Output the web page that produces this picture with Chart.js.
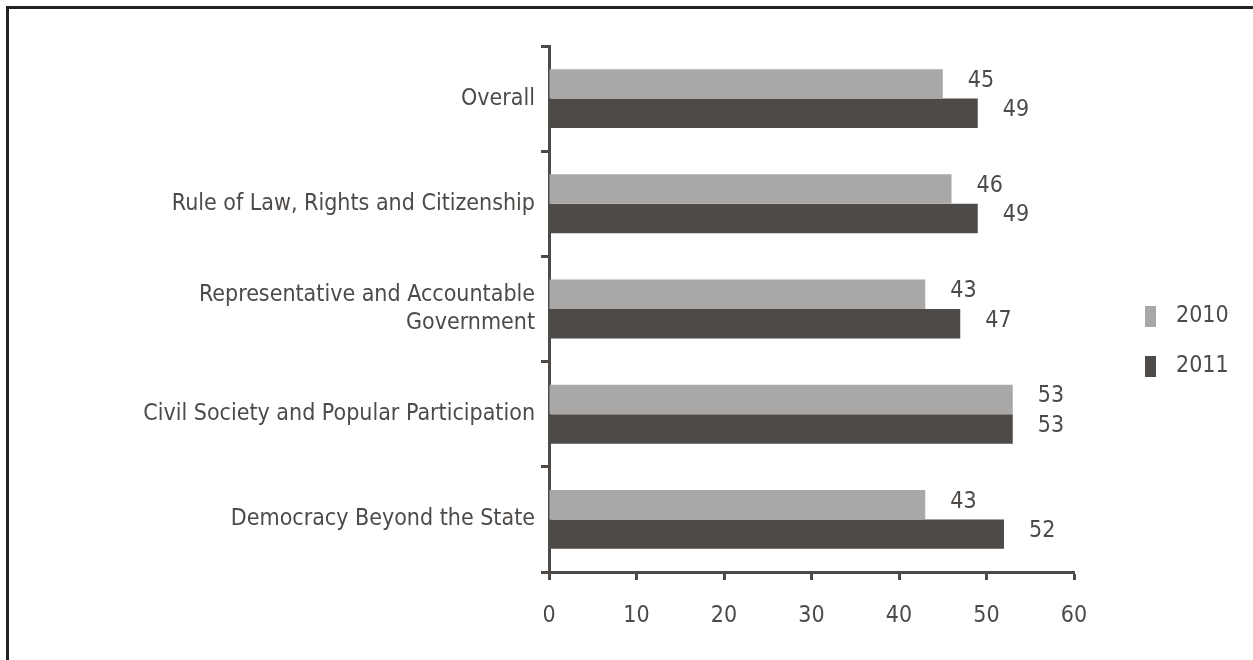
<!DOCTYPE html>
<html>
<head>
<meta charset="utf-8">
<script src="https://cdn.jsdelivr.net/npm/chart.js@4/dist/chart.umd.min.js"></script>
<style>
  html, body { margin: 0; padding: 0; background: #fff; }
  #wrap { width: 1253px; height: 660px; position: relative; }
</style>
</head>
<body>
<div id="wrap"><canvas id="chart" width="1253" height="660"></canvas></div>
<script>
// categories (top to bottom)
const categories = [
    'Overall',
    'Rule of Law, Rights and Citizenship',
    ['Representative and Accountable', 'Government'],
    'Civil Society and Popular Participation',
    'Democracy Beyond the State'
];
const values2010 = [45, 46, 43, 53, 43];
const values2011 = [49, 49, 47, 53, 52];
const seriesNames = ['2010', '2011'];
const xTicks = [0, 10, 20, 30, 40, 50, 60];

const FONT = '"Liberation Sans Narrow", "DejaVu Sans Condensed", "Liberation Sans", sans-serif';
const FONT_SIZE = 23;
const TEXT = '#4e4a47';
const LIGHT = '#a9a8a7';
const DARK = '#4e4a47';

// frame line on top and left, value labels, legend
const extras = {
    id: 'extras',
    beforeDraw(chart) {
        const ctx = chart.ctx;
        ctx.save();
        ctx.strokeStyle = '#222';
        ctx.lineWidth = 3;
        ctx.beginPath();
        ctx.moveTo(7.5, 660);
        ctx.lineTo(7.5, 7.5);
        ctx.lineTo(1253, 7.5);
        ctx.stroke();
        ctx.restore();
    },
    afterDatasetsDraw(chart) {
        const ctx = chart.ctx;
        ctx.save();
        ctx.font = FONT_SIZE + 'px ' + FONT;
        ctx.fillStyle = TEXT;
        ctx.textBaseline = 'middle';
        ctx.textAlign = 'left';
        chart.data.datasets.forEach((ds, i) => {
            chart.getDatasetMeta(i).data.forEach((bar, j) => {
                ctx.fillText(String(ds.data[j]), bar.x + 25, bar.y - 3);
            });
        });
        // legend
        chart.data.datasets.forEach((ds, i) => {
            const cy = 316 + i * 50;
            ctx.fillStyle = ds.backgroundColor;
            ctx.fillRect(1145, cy - 10, 11, 21);
            ctx.fillStyle = TEXT;
            ctx.fillText(ds.label, 1176, cy);
        });
        ctx.restore();
    }
};

new Chart(document.getElementById('chart'), {
    type: 'bar',
    data: {
        labels: categories,
        datasets: [
            { label: seriesNames[0], data: values2010, backgroundColor: LIGHT },
            { label: seriesNames[1], data: values2011, backgroundColor: DARK }
        ]
    },
    options: {
        indexAxis: 'y',
        responsive: false,
        animation: false,
        categoryPercentage: 0.56,
        barPercentage: 1.0,
        layout: { padding: { top: 46, right: 179, bottom: 0, left: 0 } },
        plugins: {
            legend: { display: false },
            tooltip: { enabled: false }
        },
        scales: {
            y: {
                afterFit(scale) { scale.width = 549; },
                grid: {
                    drawOnChartArea: false,
                    drawTicks: true,
                    tickLength: 8,
                    tickWidth: 3,
                    color: DARK,
                    offset: true
                },
                border: { color: DARK, width: 3 },
                ticks: {
                    color: TEXT,
                    font: { family: FONT, size: FONT_SIZE },
                    padding: 6,
                    autoSkip: false
                }
            },
            x: {
                min: 0,
                max: 60,
                afterFit(scale) { scale.height = 88; },
                afterBuildTicks(scale) { scale.ticks = xTicks.map(v => ({ value: v })); },
                grid: {
                    drawOnChartArea: false,
                    drawTicks: true,
                    tickLength: 8,
                    tickWidth: 3,
                    color: DARK
                },
                border: { color: DARK, width: 3 },
                ticks: {
                    color: TEXT,
                    font: { family: FONT, size: FONT_SIZE },
                    padding: 22,
                    maxRotation: 0,
                    autoSkip: false
                }
            }
        }
    },
    plugins: [extras]
});
</script>
</body>
</html>
